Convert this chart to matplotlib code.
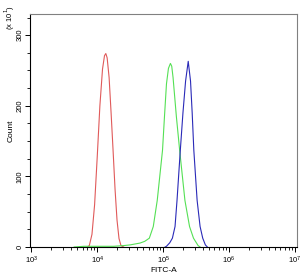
import numpy as np
import matplotlib
matplotlib.use("Agg")
import matplotlib.pyplot as plt
from matplotlib.ticker import MultipleLocator, LogLocator

plt.rcParams['font.family'] = ['Liberation Sans', 'DejaVu Sans']

# log10(FITC-A) positions and counts (x10^1)
red_log = [3.85, 3.88, 3.92, 3.96, 4.00, 4.04, 4.08, 4.11, 4.13, 4.15, 4.18, 4.21, 4.24, 4.27, 4.30, 4.33, 4.36, 4.40]
red_cnt = [0, 2, 18, 60, 128, 200, 252, 271, 274, 268, 240, 190, 137, 82, 38, 12, 2, 0]

green_log = [3.65, 3.80, 3.95, 4.10, 4.25, 4.40, 4.50, 4.65, 4.72, 4.79, 4.85, 4.91, 4.99, 5.02, 5.05, 5.08, 5.11, 5.13, 5.15, 5.20, 5.25, 5.33, 5.40, 5.46, 5.53, 5.56]
green_cnt = [0, 1, 1, 1, 1, 2, 3, 5.6, 8, 12.5, 29, 66, 137, 185, 231, 253, 260, 256, 240, 185, 137, 66, 29, 12.5, 2, 0]

blue_log = [5.03, 5.05, 5.10, 5.14, 5.18, 5.21, 5.26, 5.30, 5.34, 5.38, 5.415, 5.44, 5.465, 5.515, 5.56, 5.60, 5.64, 5.67]
blue_cnt = [0, 1, 6, 12.5, 29, 66, 137, 190, 235, 263, 235, 190, 137, 66, 29, 12.5, 3, 0]

fig = plt.figure(figsize=(3.02, 2.75), dpi=100)
ax = fig.add_axes([30/302, 28/275, 267/302, 233/275])

ax.plot(10**np.array(red_log), red_cnt, color='#e05a5a', lw=0.8)
ax.plot(10**np.array(green_log), green_cnt, color='#55e055', lw=0.8)
ax.plot(10**np.array(blue_log), blue_cnt, color='#2a2ab8', lw=0.8)

ax.set_xscale('log')
ax.set_xlim(10**2.98, 10**7.03)
ax.set_ylim(0, 330)

ax.yaxis.set_major_locator(MultipleLocator(100))
ax.yaxis.set_minor_locator(MultipleLocator(25))
ax.xaxis.set_major_locator(LogLocator(base=10, numticks=10))
ax.xaxis.set_minor_locator(LogLocator(base=10, subs=np.arange(2, 10), numticks=20))

ax.tick_params(axis='both', which='major', length=3.6, width=0.7, labelsize=5.5, direction='out')
ax.tick_params(axis='y', which='major', pad=1)
ax.tick_params(axis='x', which='major', pad=2)
ax.tick_params(axis='both', which='minor', length=2.2, width=0.6, direction='out')
for lab in ax.get_yticklabels():
    lab.set_rotation(90)
    lab.set_va('center')

for s in ['top', 'right']:
    ax.spines[s].set_color('#808080')
for s in ['left', 'bottom']:
    ax.spines[s].set_color('black')
for s in ax.spines.values():
    s.set_linewidth(0.8)

ax.set_xlabel('FITC-A', fontsize=6, labelpad=1)
ax.set_ylabel('Count', fontsize=6, labelpad=1.5)
fig.text(10/302, 1 - 18/275, r'(x 10$^1$)', rotation=90, fontsize=5.5, ha='center', va='center')

fig.savefig('out.png', dpi=100)
